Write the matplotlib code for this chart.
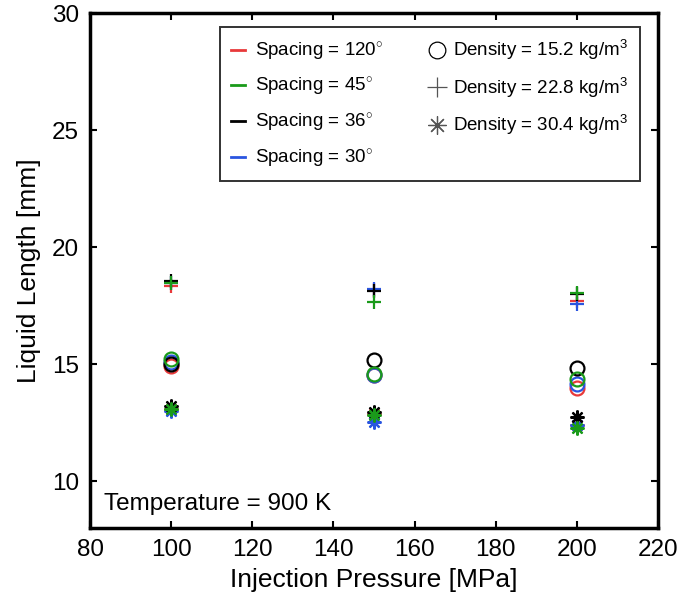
import matplotlib
matplotlib.use('Agg')
import matplotlib.pyplot as plt
from matplotlib.lines import Line2D

plt.rcParams['font.family'] = ['Liberation Sans', 'DejaVu Sans']
plt.rcParams['mathtext.fontset'] = 'custom'
plt.rcParams['mathtext.rm'] = 'Liberation Sans'
plt.rcParams['mathtext.it'] = 'Liberation Sans:italic'

# Einspritzdruck [MPa]
pressure = [100, 150, 200]

# Flüssigkeitslänge [mm] je Lochabstand und Dichte (circle = 15.2, plus = 22.8, star = 30.4 kg/m3)
sp120_d152 = [14.9, 14.55, 14.0]
sp120_d228 = [18.35, 18.17, 17.7]
sp120_d304 = [13.1, 12.85, 12.4]

sp45_d152 = [15.2, 14.56, 14.38]
sp45_d228 = [18.47, 17.64, 18.05]
sp45_d304 = [13.1, 12.82, 12.28]

sp36_d152 = [15.0, 15.17, 14.82]
sp36_d228 = [18.55, 18.12, 17.99]
sp36_d304 = [13.2, 12.96, 12.75]

sp30_d152 = [15.1, 14.55, 14.17]
sp30_d228 = [18.45, 18.19, 17.59]
sp30_d304 = [13.0, 12.53, 12.4]

spacing_labels = ['Spacing = 120$^{\\circ}$', 'Spacing = 45$^{\\circ}$', 'Spacing = 36$^{\\circ}$', 'Spacing = 30$^{\\circ}$']
density_labels = ['Density = 15.2 kg/m$^3$', 'Density = 22.8 kg/m$^3$', 'Density = 30.4 kg/m$^3$']

red = '#e8393a'
green = '#1a9a1a'
black = '#000000'
blue = '#2a55e0'
star = (8, 2, 0)

fig = plt.figure(figsize=(6.81, 6.03), dpi=100)
ax = fig.add_axes([90 / 681, 75 / 603, 568 / 681, 515 / 603])

# Zeichenreihenfolge: rot, blau, schwarz, grün (grün liegt oben)
series = [
    (red, sp120_d152, sp120_d228, sp120_d304),
    (blue, sp30_d152, sp30_d228, sp30_d304),
    (black, sp36_d152, sp36_d228, sp36_d304),
    (green, sp45_d152, sp45_d228, sp45_d304),
]
for color, d1, d2, d3 in series:
    ax.plot(pressure, d1, linestyle='none', marker='o', markersize=10, markerfacecolor='none',
            markeredgecolor=color, markeredgewidth=1.6)
    ax.plot(pressure, d2, linestyle='none', marker='+', markersize=10, color=color, markeredgewidth=1.6)
    ax.plot(pressure, d3, linestyle='none', marker=star, markersize=10, color=color, markeredgewidth=1.6)

ax.set_xlim(80, 220)
ax.set_ylim(8, 30)
ax.set_xticks([80, 100, 120, 140, 160, 180, 200, 220])
ax.set_yticks([10, 15, 20, 25, 30])
ax.tick_params(direction='in', top=True, right=True, length=5, width=1.5, labelsize=17.5, pad=8)
for s in ax.spines.values():
    s.set_linewidth(2.5)

ax.set_xlabel('Injection Pressure [MPa]', fontsize=19, labelpad=5)
ax.set_ylabel('Liquid Length [mm]', fontsize=19, labelpad=8)
ax.text(0.025, 0.025, 'Temperature = 900 K', transform=ax.transAxes, fontsize=17.5, ha='left', va='bottom')

handles = [Line2D([], [], color=c, linewidth=2) for c in [red, green, black, blue]]
handles += [
    Line2D([], [], linestyle='none', marker='o', markersize=12, markerfacecolor='none',
           markeredgecolor='black', markeredgewidth=0.9),
    Line2D([], [], linestyle='none', marker='+', markersize=14, color='#555555', markeredgewidth=0.9),
    Line2D([], [], linestyle='none', marker=star, markersize=13, color='#555555', markeredgewidth=0.9),
]
labels = spacing_labels + density_labels
leg = ax.legend(handles, labels, ncol=2, loc='upper right', bbox_to_anchor=(0.968, 0.973),
                borderaxespad=0, fontsize=13.5, frameon=True, fancybox=False, handlelength=0.75,
                handletextpad=0.5, columnspacing=2.5, labelspacing=0.72, borderpad=0.6)
leg.get_frame().set_edgecolor('black')
leg.get_frame().set_linewidth(1.4)

fig.savefig('out.png', dpi=100)
